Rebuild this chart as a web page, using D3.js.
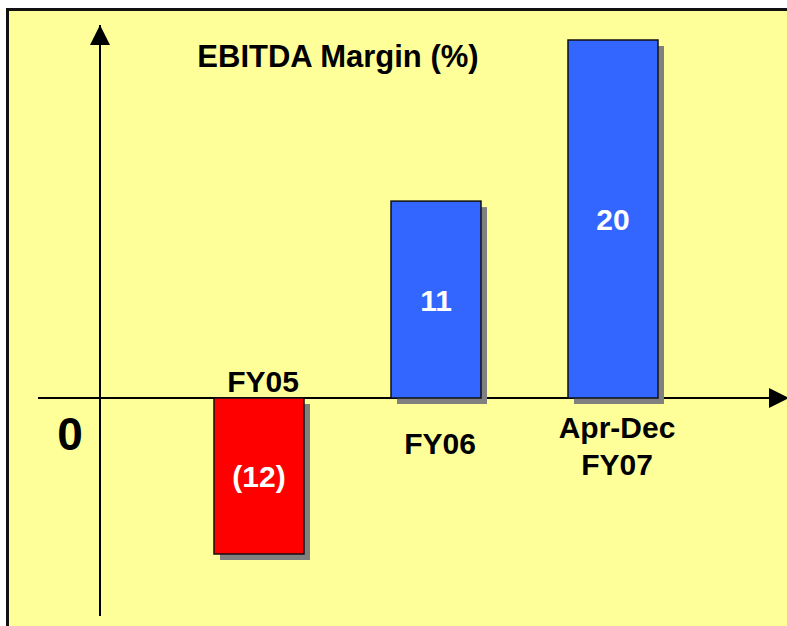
<!DOCTYPE html>
<html>
<head>
<meta charset="utf-8">
<script src="https://cdn.jsdelivr.net/npm/d3@7"></script>
<style>
  html, body { margin: 0; padding: 0; background: #fff; }
  svg { display: block; font-family: "Liberation Sans", Arial, Helvetica, sans-serif; font-weight: bold; }
</style>
</head>
<body>
<svg id="chart" width="787" height="626"></svg>
<script>
// chart data
var categories = ["FY05", "FY06", "Apr-Dec FY07"];
var categoryLines = [["FY05"], ["FY06"], ["Apr-Dec", "FY07"]];
var margins = [-12, 11, 20];
var valueLabels = ["(12)", "11", "20"];
var chartTitle = "EBITDA Margin (%)";

var W = 787, H = 626;
var svg = d3.select("#chart");

// frame + yellow panel
svg.append("rect")
    .attr("x", 7.5).attr("y", 9.5)
    .attr("width", W + 20).attr("height", H + 20)
    .attr("fill", "#ffff99")
    .attr("stroke", "#111").attr("stroke-width", 3);

var x = d3.scaleBand()
    .domain(categories)
    .range([214, 658])
    .paddingInner(0.4915)
    .paddingOuter(0);

var y = d3.scaleLinear()
    .domain([d3.min(margins), 0, d3.max(margins)])
    .range([554, 398, 40]);

var y0 = y(0);
var axisX = 100;

// arrow heads
var defs = svg.append("defs");
defs.append("marker")
    .attr("id", "arrow")
    .attr("viewBox", "0 0 20 20")
    .attr("refX", 20).attr("refY", 10)
    .attr("markerWidth", 20).attr("markerHeight", 20)
    .attr("markerUnits", "userSpaceOnUse")
    .attr("orient", "auto")
    .append("path")
    .attr("d", "M0,0L20,10L0,20Z")
    .attr("fill", "#000");

// x axis
svg.append("line")
    .attr("x1", 38).attr("x2", 789)
    .attr("y1", y0).attr("y2", y0)
    .attr("stroke", "#000").attr("stroke-width", 2)
    .attr("marker-end", "url(#arrow)");

// y axis
svg.append("line")
    .attr("x1", axisX).attr("x2", axisX)
    .attr("y1", 616).attr("y2", 25)
    .attr("stroke", "#000").attr("stroke-width", 2)
    .attr("marker-end", "url(#arrow)");

var rows = margins.map(function(v, i){
    return {cat: categories[i], value: v, label: valueLabels[i], lines: categoryLines[i]};
});

// shadows
svg.selectAll("rect.shadow")
    .data(rows)
    .enter()
    .append("rect")
    .attr("class", "shadow")
    .attr("x", function(d){ return x(d.cat) + 6; })
    .attr("y", function(d){ return Math.min(y(d.value), y0) + 6; })
    .attr("width", x.bandwidth())
    .attr("height", function(d){ return Math.abs(y(d.value) - y0); })
    .attr("fill", "#808080");

// bars
svg.selectAll("rect.bar")
    .data(rows)
    .enter()
    .append("rect")
    .attr("class", "bar")
    .attr("x", function(d){ return x(d.cat); })
    .attr("y", function(d){ return Math.min(y(d.value), y0); })
    .attr("width", x.bandwidth())
    .attr("height", function(d){ return Math.abs(y(d.value) - y0); })
    .attr("fill", function(d){ return d.value < 0 ? "#ff0000" : "#3366ff"; })
    .attr("stroke", "#111").attr("stroke-width", 1.5);

// values inside bars
svg.selectAll("text.val")
    .data(rows)
    .enter()
    .append("text")
    .attr("class", "val")
    .attr("x", function(d){ return x(d.cat) + x.bandwidth() / 2; })
    .attr("y", function(d){ return (y(d.value) + y0) / 2 + 11; })
    .attr("text-anchor", "middle")
    .attr("font-size", 30)
    .attr("fill", "#fff")
    .text(function(d){ return d.label; });

// category labels (above axis for negatives, below for positives)
var cats = svg.selectAll("text.cat")
    .data(rows)
    .enter()
    .append("text")
    .attr("class", "cat")
    .attr("text-anchor", "middle")
    .attr("font-size", 30)
    .attr("fill", "#000")
    .attr("x", function(d){ return x(d.cat) + x.bandwidth() / 2 + 4; })
    .attr("y", function(d){
        if (d.value < 0) return y0 - 6;
        return d.lines.length > 1 ? y0 + 40 : y0 + 56;
    });

cats.selectAll("tspan")
    .data(function(d){ return d.lines; })
    .enter()
    .append("tspan")
    .attr("x", function(){ return d3.select(this.parentNode).attr("x"); })
    .attr("dy", function(d, i){ return i ? 37 : 0; })
    .text(function(d){ return d; });

// zero label
svg.append("text")
    .attr("x", 70).attr("y", y0 + 52)
    .attr("text-anchor", "middle")
    .attr("font-size", 46)
    .text("0");

// title
svg.append("text")
    .attr("x", 338).attr("y", 67)
    .attr("text-anchor", "middle")
    .attr("font-size", 31)
    .text(chartTitle);
</script>
</body>
</html>
